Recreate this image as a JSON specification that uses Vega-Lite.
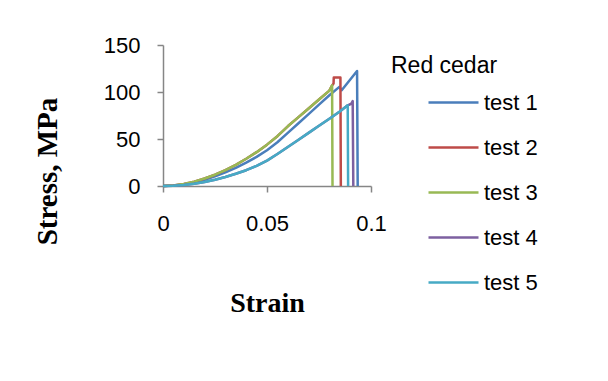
{
  "$schema": "https://vega.github.io/schema/vega-lite/v6.json",
  "width": 208,
  "height": 141,
  "padding": {"left": 33, "top": 34, "right": 5, "bottom": 5},
  "background": "white",
  "config": {
    "view": {"stroke": null},
    "axis": {"grid": false, "domainColor": "#868686", "domainWidth": 1.5, "tickColor": "#868686", "tickWidth": 1.5, "tickSize": 6,
      "labelFont": "Liberation Sans", "labelFontSize": 22, "labelColor": "#000000",
      "titleFont": "Liberation Serif", "titleFontWeight": "bold", "titleFontSize": 28, "titleColor": "#000000"},
    "legend": {"labelFont": "Liberation Sans", "labelFontSize": 22, "labelColor": "#000000",
      "titleFont": "Liberation Sans", "titleFontSize": 23, "titleFontWeight": "normal", "titleColor": "#000000"}
  },
  "data": {"values": [
    {"series": "test 1", "strain": 0, "stress": 0},
    {"series": "test 1", "strain": 0.005, "stress": 0.5},
    {"series": "test 1", "strain": 0.01, "stress": 1.7},
    {"series": "test 1", "strain": 0.015, "stress": 3.8},
    {"series": "test 1", "strain": 0.02, "stress": 6.7},
    {"series": "test 1", "strain": 0.025, "stress": 10.3},
    {"series": "test 1", "strain": 0.03, "stress": 14.5},
    {"series": "test 1", "strain": 0.035, "stress": 19.2},
    {"series": "test 1", "strain": 0.04, "stress": 24.8},
    {"series": "test 1", "strain": 0.045, "stress": 31},
    {"series": "test 1", "strain": 0.05, "stress": 38},
    {"series": "test 1", "strain": 0.055, "stress": 46.5},
    {"series": "test 1", "strain": 0.06, "stress": 56.5},
    {"series": "test 1", "strain": 0.065, "stress": 66.5},
    {"series": "test 1", "strain": 0.07, "stress": 76.5},
    {"series": "test 1", "strain": 0.075, "stress": 86.5},
    {"series": "test 1", "strain": 0.08, "stress": 96.5},
    {"series": "test 1", "strain": 0.0848, "stress": 105.5},
    {"series": "test 1", "strain": 0.0859, "stress": 101.8},
    {"series": "test 1", "strain": 0.0933, "stress": 122.3},
    {"series": "test 1", "strain": 0.0936, "stress": 0},

    {"series": "test 2", "strain": 0, "stress": 0},
    {"series": "test 2", "strain": 0.005, "stress": 0.6},
    {"series": "test 2", "strain": 0.01, "stress": 2.1},
    {"series": "test 2", "strain": 0.015, "stress": 4.6},
    {"series": "test 2", "strain": 0.02, "stress": 8},
    {"series": "test 2", "strain": 0.025, "stress": 12},
    {"series": "test 2", "strain": 0.03, "stress": 17},
    {"series": "test 2", "strain": 0.035, "stress": 22.5},
    {"series": "test 2", "strain": 0.04, "stress": 29},
    {"series": "test 2", "strain": 0.045, "stress": 36},
    {"series": "test 2", "strain": 0.05, "stress": 44},
    {"series": "test 2", "strain": 0.055, "stress": 53},
    {"series": "test 2", "strain": 0.06, "stress": 63.5},
    {"series": "test 2", "strain": 0.065, "stress": 73},
    {"series": "test 2", "strain": 0.07, "stress": 82.5},
    {"series": "test 2", "strain": 0.075, "stress": 92},
    {"series": "test 2", "strain": 0.08, "stress": 101.5},
    {"series": "test 2", "strain": 0.0813, "stress": 107},
    {"series": "test 2", "strain": 0.082, "stress": 109},
    {"series": "test 2", "strain": 0.0821, "stress": 115.3},
    {"series": "test 2", "strain": 0.0853, "stress": 115.3},
    {"series": "test 2", "strain": 0.0855, "stress": 0},

    {"series": "test 3", "strain": 0, "stress": 0},
    {"series": "test 3", "strain": 0.005, "stress": 0.6},
    {"series": "test 3", "strain": 0.01, "stress": 2.1},
    {"series": "test 3", "strain": 0.015, "stress": 4.6},
    {"series": "test 3", "strain": 0.02, "stress": 8},
    {"series": "test 3", "strain": 0.025, "stress": 12},
    {"series": "test 3", "strain": 0.03, "stress": 17},
    {"series": "test 3", "strain": 0.035, "stress": 22.5},
    {"series": "test 3", "strain": 0.04, "stress": 29},
    {"series": "test 3", "strain": 0.045, "stress": 36},
    {"series": "test 3", "strain": 0.05, "stress": 44},
    {"series": "test 3", "strain": 0.055, "stress": 53},
    {"series": "test 3", "strain": 0.06, "stress": 63.5},
    {"series": "test 3", "strain": 0.065, "stress": 73},
    {"series": "test 3", "strain": 0.07, "stress": 82.5},
    {"series": "test 3", "strain": 0.075, "stress": 92},
    {"series": "test 3", "strain": 0.08, "stress": 101.5},
    {"series": "test 3", "strain": 0.0813, "stress": 107},
    {"series": "test 3", "strain": 0.0815, "stress": 0},

    {"series": "test 4", "strain": 0, "stress": 0},
    {"series": "test 4", "strain": 0.005, "stress": 0.3},
    {"series": "test 4", "strain": 0.01, "stress": 1.1},
    {"series": "test 4", "strain": 0.015, "stress": 2.4},
    {"series": "test 4", "strain": 0.02, "stress": 4.3},
    {"series": "test 4", "strain": 0.025, "stress": 6.7},
    {"series": "test 4", "strain": 0.03, "stress": 9.6},
    {"series": "test 4", "strain": 0.035, "stress": 13},
    {"series": "test 4", "strain": 0.04, "stress": 16.8},
    {"series": "test 4", "strain": 0.045, "stress": 21.5},
    {"series": "test 4", "strain": 0.05, "stress": 27},
    {"series": "test 4", "strain": 0.055, "stress": 34},
    {"series": "test 4", "strain": 0.06, "stress": 41.5},
    {"series": "test 4", "strain": 0.065, "stress": 49},
    {"series": "test 4", "strain": 0.07, "stress": 56.5},
    {"series": "test 4", "strain": 0.075, "stress": 64},
    {"series": "test 4", "strain": 0.08, "stress": 71.6},
    {"series": "test 4", "strain": 0.085, "stress": 79.3},
    {"series": "test 4", "strain": 0.0888, "stress": 85.8},
    {"series": "test 4", "strain": 0.0905, "stress": 87.5},
    {"series": "test 4", "strain": 0.0912, "stress": 90.4},
    {"series": "test 4", "strain": 0.0915, "stress": 0},

    {"series": "test 5", "strain": 0, "stress": 0},
    {"series": "test 5", "strain": 0.005, "stress": 0.3},
    {"series": "test 5", "strain": 0.01, "stress": 1.1},
    {"series": "test 5", "strain": 0.015, "stress": 2.4},
    {"series": "test 5", "strain": 0.02, "stress": 4.3},
    {"series": "test 5", "strain": 0.025, "stress": 6.7},
    {"series": "test 5", "strain": 0.03, "stress": 9.6},
    {"series": "test 5", "strain": 0.035, "stress": 13},
    {"series": "test 5", "strain": 0.04, "stress": 16.8},
    {"series": "test 5", "strain": 0.045, "stress": 21.5},
    {"series": "test 5", "strain": 0.05, "stress": 27},
    {"series": "test 5", "strain": 0.055, "stress": 34},
    {"series": "test 5", "strain": 0.06, "stress": 41.5},
    {"series": "test 5", "strain": 0.065, "stress": 49},
    {"series": "test 5", "strain": 0.07, "stress": 56.5},
    {"series": "test 5", "strain": 0.075, "stress": 64},
    {"series": "test 5", "strain": 0.08, "stress": 71.6},
    {"series": "test 5", "strain": 0.085, "stress": 79.3},
    {"series": "test 5", "strain": 0.0888, "stress": 85.8},
    {"series": "test 5", "strain": 0.089, "stress": 0}
  ]},
  "mark": {"type": "line", "strokeWidth": 2.5, "strokeJoin": "round"},
  "encoding": {
    "x": {"field": "strain", "type": "quantitative", "scale": {"domain": [0, 0.1], "nice": false},
      "axis": {"values": [0, 0.05, 0.1], "format": "~g", "labelFlush": false, "labelPadding": 21, "title": "Strain", "titlePadding": 55}},
    "y": {"field": "stress", "type": "quantitative", "scale": {"domain": [0, 150], "nice": false},
      "axis": {"values": [0, 50, 100, 150], "labelFlush": false, "labelPadding": 17, "title": "Stress, MPa", "titleFontSize": 29, "titlePadding": 41, "titleY": 126}},
    "color": {"field": "series", "type": "nominal",
      "scale": {"domain": ["test 1", "test 2", "test 3", "test 4", "test 5"], "range": ["#4A7EBB", "#BE4B48", "#98B954", "#7D60A0", "#46AAC5"]},
      "legend": {"title": "Red cedar", "orient": "right", "offset": 10, "padding": 10, "symbolType": "stroke", "symbolSize": 2500, "symbolStrokeWidth": 2.5,
        "symbolOffset": 36, "labelOffset": 4, "rowPadding": 7, "titlePadding": -2}}
  }
}
